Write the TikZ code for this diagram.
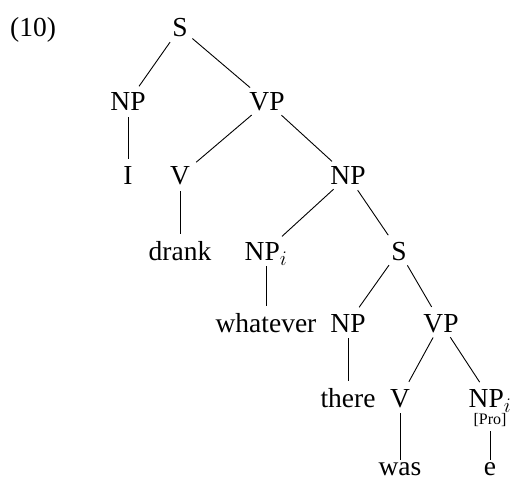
\documentclass[tikz,border=0pt]{standalone}
\usepackage{fontspec}
\setmainfont{Liberation Serif}

\begin{document}
\begin{tikzpicture}[x=1pt, y=-1pt,
    cat/.style={anchor=base, inner sep=0pt, text height=18pt, text depth=0pt, font=\fontsize{27.5}{33}\selectfont},
    leaf/.style={cat, text height=7pt},
    feat/.style={anchor=base, inner sep=0pt, text depth=1pt, font=\fontsize{16}{19}\selectfont},
    branch/.style={draw, line width=0.9pt, shorten <=6pt, shorten >=8pt}]
    \useasboundingbox (0,0) rectangle (510,478);
    % Place nodes
    \node [cat, anchor=base west] (ex) at (10,37) {(10)};
    \node [cat] (S1) at (180,37) {S};
    \node [cat] (NP1) at (128,111) {NP};
    \node [cat] (VP1) at (267,111) {VP};
    \node [cat] (I) at (128,185) {I};
    \node [cat] (V1) at (180,185) {V};
    \node [cat] (NP2) at (348,185) {NP};
    \node [cat] (drank) at (180,260) {drank};
    \node [cat] (NPi1) at (266,260) {NP$_i$};
    \node [cat] (S2) at (399,260) {S};
    \node [cat] (whatever) at (266,332) {whatever};
    \node [cat] (NP3) at (348,332) {NP};
    \node [cat] (VP2) at (441,332) {VP};
    \node [cat] (there) at (348,407) {there};
    \node [cat] (V2) at (400,407) {V};
    \node [cat] (NPi2) at (490,407) {NP$_i$};
    \node [feat] (Pro) at (490,424) {[Pro]};
    \node [leaf] (was) at (400,475) {was};
    \node [leaf] (e) at (490,475) {e};
    % Draw branches
    \path [branch] (S1) -- (NP1);
    \path [branch] (S1) -- (VP1);
    \path [branch] (NP1) -- (I);
    \path [branch] (VP1) -- (V1);
    \path [branch] (VP1) -- (NP2);
    \path [branch] (V1) -- (drank);
    \path [branch] (NP2) -- (NPi1);
    \path [branch] (NP2) -- (S2);
    \path [branch] (NPi1) -- (whatever);
    \path [branch] (S2) -- (NP3);
    \path [branch] (S2) -- (VP2);
    \path [branch] (NP3) -- (there);
    \path [branch] (VP2) -- (V2);
    \path [branch] (VP2) -- (NPi2);
    \path [branch] (V2) -- (was);
    \path [branch] (Pro) -- (e);
\end{tikzpicture}
\end{document}
